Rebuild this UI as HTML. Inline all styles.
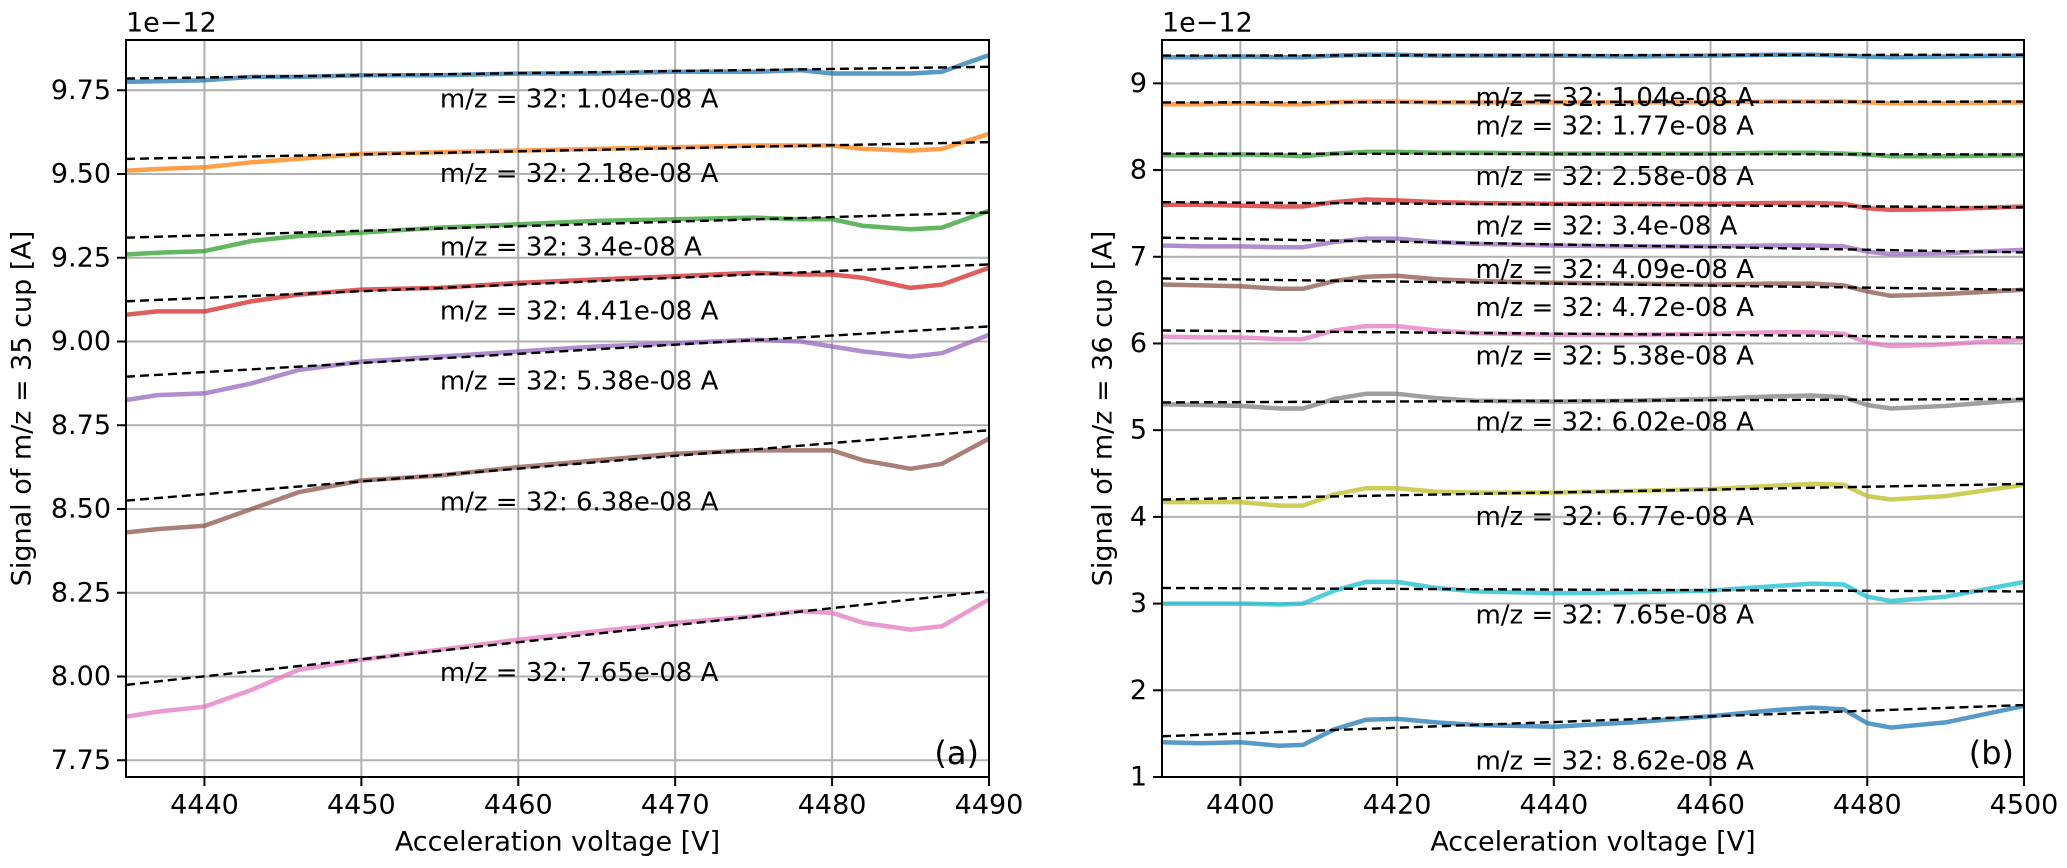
<!DOCTYPE html>
<html><head><meta charset="utf-8"><style>
body{margin:0;background:#fff}
svg{display:block;font-family:"DejaVu Sans","Liberation Sans",sans-serif}
</style></head><body>
<svg id="chart" width="2067" height="868" viewBox="0 0 2067 868" xmlns="http://www.w3.org/2000/svg"></svg>
<script>
// ---- panel (a) data ----
const aX = [4435,4437,4440,4443,4446,4450,4455,4460,4465,4470,4475,4478,4480,4482,4485,4487,4490];
const aBlue   = [9.775,9.777,9.78,9.79,9.79,9.795,9.795,9.80,9.80,9.805,9.805,9.81,9.80,9.80,9.80,9.805,9.855];
const aOrange = [9.51,9.515,9.52,9.535,9.545,9.56,9.565,9.57,9.575,9.58,9.585,9.585,9.585,9.575,9.57,9.575,9.62];
const aGreen  = [9.26,9.265,9.27,9.30,9.315,9.325,9.34,9.35,9.36,9.365,9.37,9.365,9.365,9.345,9.335,9.34,9.39];
const aRed    = [9.08,9.09,9.09,9.12,9.14,9.155,9.16,9.175,9.185,9.195,9.205,9.20,9.20,9.19,9.16,9.17,9.22];
const aPurple = [8.825,8.84,8.845,8.875,8.915,8.94,8.955,8.97,8.985,8.995,9.005,9.00,8.985,8.97,8.955,8.965,9.02];
const aBrown  = [8.43,8.44,8.45,8.50,8.55,8.585,8.60,8.625,8.645,8.665,8.675,8.675,8.675,8.645,8.62,8.635,8.71];
const aPink   = [7.88,7.895,7.91,7.96,8.02,8.05,8.08,8.11,8.135,8.16,8.18,8.195,8.19,8.16,8.14,8.15,8.23];
const aFitStart = [9.785,9.545,9.31,9.12,8.895,8.525,7.975];
const aFitEnd   = [9.82,9.595,9.385,9.23,9.045,8.735,8.255];
const aLabels = ["1.04e-08","2.18e-08","3.4e-08","4.41e-08","5.38e-08","6.38e-08","7.65e-08"];
const aLabelY = [9.723,9.50,9.28,9.09,8.88,8.52,8.01];
const aXTicks = [4440,4450,4460,4470,4480,4490];
const aYTicks = [7.75,8.00,8.25,8.50,8.75,9.00,9.25,9.50,9.75];

// ---- panel (b) data ----
const bX = [4390,4395,4400,4405,4408,4412,4416,4420,4425,4430,4440,4450,4460,4468,4473,4477,4480,4483,4490,4500];
const bBlue1  = [9.30,9.30,9.31,9.30,9.30,9.32,9.33,9.33,9.32,9.32,9.32,9.31,9.32,9.33,9.33,9.32,9.31,9.30,9.31,9.32];
const bOrange = [8.76,8.76,8.77,8.76,8.76,8.78,8.79,8.79,8.78,8.78,8.78,8.78,8.78,8.79,8.79,8.79,8.78,8.77,8.77,8.78];
const bGreen  = [8.17,8.17,8.18,8.17,8.16,8.19,8.21,8.21,8.20,8.20,8.19,8.19,8.19,8.20,8.20,8.19,8.18,8.16,8.16,8.17];
const bRed    = [7.60,7.60,7.59,7.58,7.58,7.63,7.66,7.65,7.63,7.62,7.61,7.61,7.61,7.62,7.62,7.61,7.56,7.54,7.55,7.58];
const bPurple = [7.13,7.12,7.12,7.11,7.11,7.17,7.21,7.21,7.17,7.15,7.13,7.12,7.12,7.13,7.13,7.12,7.06,7.03,7.04,7.08];
const bBrown  = [6.68,6.67,6.66,6.63,6.63,6.72,6.77,6.78,6.74,6.72,6.70,6.69,6.68,6.69,6.69,6.67,6.60,6.55,6.57,6.62];
const bPink   = [6.08,6.07,6.07,6.05,6.05,6.15,6.20,6.20,6.15,6.12,6.10,6.10,6.11,6.13,6.13,6.11,6.01,5.97,5.99,6.05];
const bGray   = [5.30,5.29,5.28,5.25,5.25,5.36,5.42,5.42,5.37,5.34,5.33,5.34,5.36,5.39,5.40,5.38,5.29,5.25,5.28,5.35];
const bOlive  = [4.17,4.17,4.17,4.13,4.13,4.26,4.33,4.33,4.29,4.28,4.28,4.30,4.32,4.36,4.38,4.37,4.24,4.20,4.24,4.37];
const bCyan   = [3.00,3.00,3.00,2.99,3.00,3.15,3.25,3.25,3.18,3.14,3.12,3.13,3.15,3.20,3.23,3.22,3.08,3.03,3.08,3.25];
const bBlue2  = [1.40,1.39,1.40,1.36,1.37,1.55,1.66,1.67,1.63,1.60,1.58,1.63,1.70,1.77,1.80,1.78,1.62,1.57,1.63,1.82];
const bFitStart = [9.32,8.78,8.19,7.63,7.22,6.75,6.15,5.32,4.20,3.18,1.47];
const bFitEnd   = [9.33,8.79,8.18,7.57,7.05,6.62,6.07,5.36,4.38,3.14,1.83];
const bLabels = ["1.04e-08","1.77e-08","2.58e-08","3.4e-08","4.09e-08","4.72e-08","5.38e-08","6.02e-08","6.77e-08","7.65e-08","8.62e-08"];
const bLabelY = [8.83,8.50,7.92,7.35,6.85,6.41,5.85,5.09,4.00,2.86,1.18];
const bXTicks = [4400,4420,4440,4460,4480,4500];
const bYTicks = [1,2,3,4,5,6,7,8,9];

const NS="http://www.w3.org/2000/svg";
const svg=document.getElementById('chart');
function mk(tag,attrs,parent){const e=document.createElementNS(NS,tag);for(const k in attrs)e.setAttribute(k,attrs[k]);(parent||svg).appendChild(e);return e;}

function panel(cfg){
  const {L,R,T,B,x0,x1,y0,y1}=cfg;
  const sx=v=>L+(v-x0)/(x1-x0)*(R-L);
  const sy=v=>B-(v-y0)/(y1-y0)*(B-T);
  const g=mk('g',{});
  
  
  cfg.xt.forEach(t=>{const l=mk('line',{x1:sx(t),x2:sx(t),y1:T,y2:B,stroke:'#b0b0b0','stroke-width':2},g);
    });
  cfg.yt.forEach(t=>{const l=mk('line',{x1:L,x2:R,y1:sy(t),y2:sy(t),stroke:'#b0b0b0','stroke-width':2},g);
    });
  cfg.series.forEach((s,i)=>{
    const d=cfg.xs.map((x,j)=>(j?'L':'M')+sx(x).toFixed(1)+','+sy(s[j]).toFixed(1)).join('');
    const p=mk('path',{d,fill:'none',stroke:cfg.colors[i],'stroke-opacity':0.75,'stroke-width':4.5,'stroke-linejoin':'round'},g);
    
    
  });
  cfg.fs.forEach((v,i)=>{
    const l=mk('line',{x1:sx(x0),y1:sy(v),x2:sx(x1),y2:sy(cfg.fe[i]),stroke:'#000','stroke-width':2.4,'stroke-dasharray':'9,5'},g);
    
    
  });
  cfg.labels.forEach((t,i)=>{
    const tx=mk('text',{x:sx(cfg.labX),y:sy(cfg.labY[i]),'font-size':26,'dominant-baseline':'central',fill:'#000'},g);
    tx.textContent='m/z = 32: '+t+' A';
    
    
  });
  const f=mk('rect',{x:L,y:T,width:R-L,height:B-T,fill:'none',stroke:'#000','stroke-width':2},g);
  
  
  cfg.xt.forEach(t=>{
    mk('line',{x1:sx(t),x2:sx(t),y1:B,y2:B+9,stroke:'#000','stroke-width':2},g);
    const tx=mk('text',{x:sx(t),y:B+28,'font-size':27,'text-anchor':'middle','dominant-baseline':'central'},g);
    tx.textContent=String(t);
    
    
  });
  cfg.yt.forEach(t=>{
    mk('line',{x1:L-9,x2:L,y1:sy(t),y2:sy(t),stroke:'#000','stroke-width':2},g);
    const tx=mk('text',{x:L-15,y:sy(t),'font-size':27,'text-anchor':'end','dominant-baseline':'central'},g);
    tx.textContent=cfg.fmt(t);
    
    
  });
  const off=mk('text',{x:L,y:23,'font-size':27,'dominant-baseline':'central'},g);
  off.textContent='1e\u221212';
  
  
  const xl=mk('text',{x:(L+R)/2,y:842,'font-size':27,'text-anchor':'middle','dominant-baseline':'central'},g);
  xl.textContent='Acceleration voltage [V]';
  
  
  const yl=mk('text',{x:0,y:0,'font-size':27,'text-anchor':'middle','dominant-baseline':'central',transform:`translate(${cfg.ylx},${(T+B)/2}) rotate(-90)`},g);
  yl.textContent=cfg.ytitle;
  
  
  const pl=mk('text',{x:R-10,y:B-24,'font-size':32,'text-anchor':'end','dominant-baseline':'central'},g);
  pl.textContent=cfg.plabel;
  
  
}
const tab=['#1f77b4','#ff7f0e','#2ca02c','#d62728','#9467bd','#8c564b','#e377c2','#7f7f7f','#bcbd22','#17becf','#1f77b4'];
panel({name:'panel-a',L:126,R:989,T:40,B:777,x0:4435,x1:4490,y0:7.70,y1:9.90,xs:aX,
  series:[aBlue,aOrange,aGreen,aRed,aPurple,aBrown,aPink],colors:tab,fs:aFitStart,fe:aFitEnd,
  labels:aLabels,labY:aLabelY,labX:4455,xt:aXTicks,yt:aYTicks,fmt:t=>t.toFixed(2),
  ytitle:'Signal of m/z = 35 cup [A]',ylx:22,plabel:'(a)'});
panel({name:'panel-b',L:1162,R:2024,T:40,B:777,x0:4390,x1:4500,y0:1,y1:9.5,xs:bX,
  series:[bBlue1,bOrange,bGreen,bRed,bPurple,bBrown,bPink,bGray,bOlive,bCyan,bBlue2],colors:tab,fs:bFitStart,fe:bFitEnd,
  labels:bLabels,labY:bLabelY,labX:4430,xt:bXTicks,yt:bYTicks,fmt:t=>String(t),
  ytitle:'Signal of m/z = 36 cup [A]',ylx:1103,plabel:'(b)'});
</script>
</body></html>
